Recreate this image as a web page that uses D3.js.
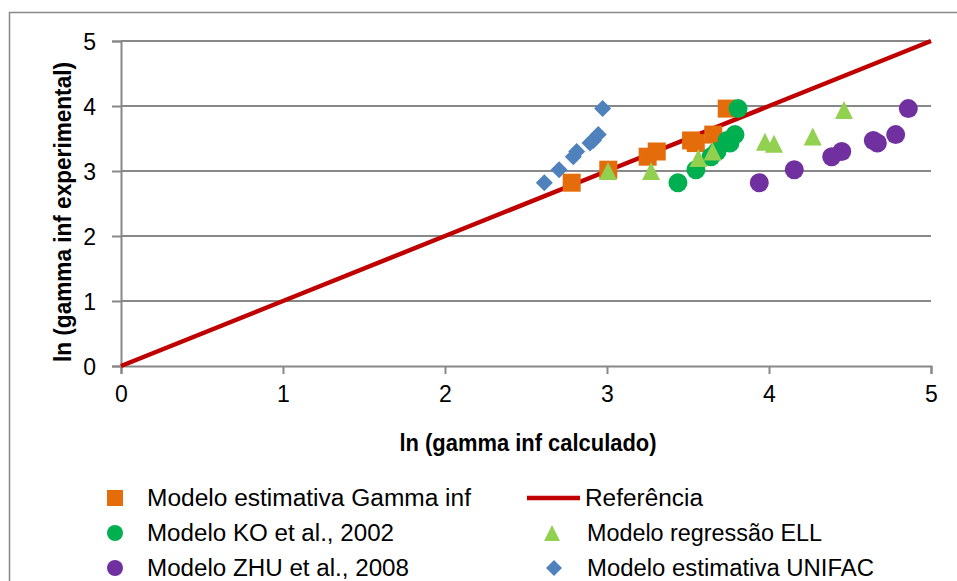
<!DOCTYPE html>
<html>
<head>
<meta charset="utf-8">
<script src="https://cdn.jsdelivr.net/npm/d3@7"></script>
<style>
  html, body { margin: 0; padding: 0; background: #fff; }
  svg { display: block; }
  text { font-family: "Liberation Sans", Arial, sans-serif; fill: #000; }
</style>
</head>
<body>
<svg id="chart" width="957" height="581"></svg>
<script>
// ln(gamma inf) — calculated (x) vs experimental (y)
const ticks = [0, 1, 2, 3, 4, 5];

const gammaInfX = [2.782, 3.008, 3.251, 3.307, 3.548, 3.519, 3.656, 3.739];
const gammaInfY = [2.82, 3.02, 3.22, 3.30, 3.43, 3.47, 3.56, 3.96];

const koX = [3.438, 3.549, 3.642, 3.679, 3.759, 3.741, 3.790, 3.809];
const koY = [2.82, 3.02, 3.22, 3.30, 3.43, 3.47, 3.56, 3.96];

const ellX = [3.006, 3.272, 3.564, 3.652, 4.031, 3.975, 4.270, 4.463];
const ellY = [3.00, 3.00, 3.20, 3.30, 3.42, 3.45, 3.53, 3.94];

const zhuX = [3.940, 4.156, 4.387, 4.449, 4.669, 4.644, 4.782, 4.860];
const zhuY = [2.82, 3.02, 3.22, 3.30, 3.43, 3.47, 3.56, 3.96];

const unifacX = [2.613, 2.704, 2.792, 2.813, 2.895, 2.916, 2.946, 2.973];
const unifacY = [2.82, 3.02, 3.22, 3.30, 3.43, 3.47, 3.56, 3.96];

const refX = [0, 1, 2, 3, 4, 5];
const refY = [0, 1, 2, 3, 4, 5];

const svg = d3.select("#chart");
const x = d3.scaleLinear().domain([0, 5]).range([121, 931]);
const y = d3.scaleLinear().domain([0, 5]).range([366, 41]);
const grey = "#888888";

// outer frame
svg.append("rect").attr("x", 9.5).attr("y", 12.5).attr("width", 960).attr("height", 600)
  .attr("fill", "none").attr("stroke", grey).attr("stroke-width", 1.5);

// horizontal gridlines
svg.append("g").selectAll("line").data(ticks.slice(1)).join("line")
  .attr("x1", x(0)).attr("x2", x(5)).attr("y1", d => y(d)).attr("y2", d => y(d))
  .attr("stroke", grey).attr("stroke-width", 2);

// axes
const xAxis = svg.append("g").attr("transform", `translate(0,${y(0)})`)
  .call(d3.axisBottom(x).tickValues(ticks).tickSize(8).tickPadding(11).tickFormat(d3.format("d")));
const yAxis = svg.append("g").attr("transform", `translate(${x(0)},0)`)
  .call(d3.axisLeft(y).tickValues(ticks).tickSize(9).tickPadding(16).tickFormat(d3.format("d")));
[xAxis, yAxis].forEach(a => {
  a.select(".domain").attr("stroke", grey).attr("stroke-width", 2);
  a.selectAll(".tick line").attr("stroke", grey).attr("stroke-width", 2);
  a.selectAll(".tick text").attr("font-size", 23).attr("font-family", "Liberation Sans, Arial, sans-serif").attr("fill", "#000");
});
xAxis.selectAll(".tick text").attr("dy", "0.75em");
yAxis.selectAll(".tick text").attr("dy", "0.36em");

// axis titles
svg.append("text").attr("x", 528).attr("y", 451).attr("text-anchor", "middle")
  .attr("font-size", 24).attr("font-weight", "bold")
  .attr("textLength", 257).attr("lengthAdjust", "spacingAndGlyphs")
  .text("ln (gamma  inf calculado)");
svg.append("text").attr("transform", "translate(71,212) rotate(-90)").attr("text-anchor", "middle")
  .attr("font-size", 24).attr("font-weight", "bold")
  .attr("textLength", 300).attr("lengthAdjust", "spacingAndGlyphs")
  .text("ln (gamma inf experimental)");

// reference line
const line = d3.line().x(d => x(d[0])).y(d => y(d[1]));
svg.append("path").datum(d3.zip(refX, refY)).attr("d", line)
  .attr("fill", "none").attr("stroke", "#C00000").attr("stroke-width", 4.5);

// marker shapes centred on their bounding box
function shapePath(kind, s) {
  const h = s / 2;
  if (kind === "square") return `M${-h},${-h}H${h}V${h}H${-h}Z`;
  if (kind === "circle") return `M${-h},0A${h},${h} 0 1,0 ${h},0A${h},${h} 0 1,0 ${-h},0Z`;
  if (kind === "triangle") return `M0,${-h}L${h},${h}L${-h},${h}Z`;
  if (kind === "diamond") return `M0,${-h}L${h},0L0,${h}L${-h},0Z`;
}

const series = [
  { name: "Modelo estimativa  UNIFAC", xs: unifacX, ys: unifacY, color: "#4F81BD", kind: "diamond", size: 17 },
  { name: "Modelo estimativa  Gamma  inf", xs: gammaInfX, ys: gammaInfY, color: "#E46C0A", kind: "square", size: 18 },
  { name: "Modelo KO et al., 2002", xs: koX, ys: koY, color: "#00B050", kind: "circle", size: 19 },
  { name: "Modelo regressão ELL", xs: ellX, ys: ellY, color: "#92D050", kind: "triangle", size: 18 },
  { name: "Modelo ZHU et al.,  2008", xs: zhuX, ys: zhuY, color: "#7030A0", kind: "circle", size: 19 }
];

series.forEach(s => {
  svg.append("g").selectAll("path").data(d3.zip(s.xs, s.ys)).join("path")
    .attr("transform", d => `translate(${x(d[0])},${y(d[1])})`)
    .attr("d", shapePath(s.kind, s.size))
    .attr("fill", s.color);
});

// legend
const legendItems = [
  { label: "Modelo estimativa  Gamma  inf", kind: "square", color: "#E46C0A", mx: 115, tx: 147, ty: 498, w: 324 },
  { label: "Referência", kind: "line", color: "#C00000", mx: 553, tx: 585, ty: 498, w: 118 },
  { label: "Modelo KO et al., 2002", kind: "circle", color: "#00B050", mx: 115, tx: 147, ty: 533, w: 247 },
  { label: "Modelo regressão ELL", kind: "triangle", color: "#92D050", mx: 552, tx: 587, ty: 533, w: 235 },
  { label: "Modelo ZHU et al.,  2008", kind: "circle", color: "#7030A0", mx: 115, tx: 147, ty: 568, w: 262 },
  { label: "Modelo estimativa  UNIFAC", kind: "diamond", color: "#4F81BD", mx: 554, tx: 587, ty: 568, w: 287 }
];
const lg = svg.append("g");
legendItems.forEach(it => {
  if (it.kind === "line") {
    lg.append("line").attr("x1", it.mx - 26).attr("x2", it.mx + 27).attr("y1", it.ty).attr("y2", it.ty)
      .attr("stroke", it.color).attr("stroke-width", 4.5);
  } else {
    lg.append("path").attr("transform", `translate(${it.mx},${it.ty})`)
      .attr("d", shapePath(it.kind, 16)).attr("fill", it.color);
  }
  lg.append("text").attr("x", it.tx).attr("y", it.ty).attr("dy", "0.36em")
    .attr("font-size", 23).attr("textLength", it.w).attr("lengthAdjust", "spacingAndGlyphs")
    .text(it.label);
});
</script>
</body>
</html>
